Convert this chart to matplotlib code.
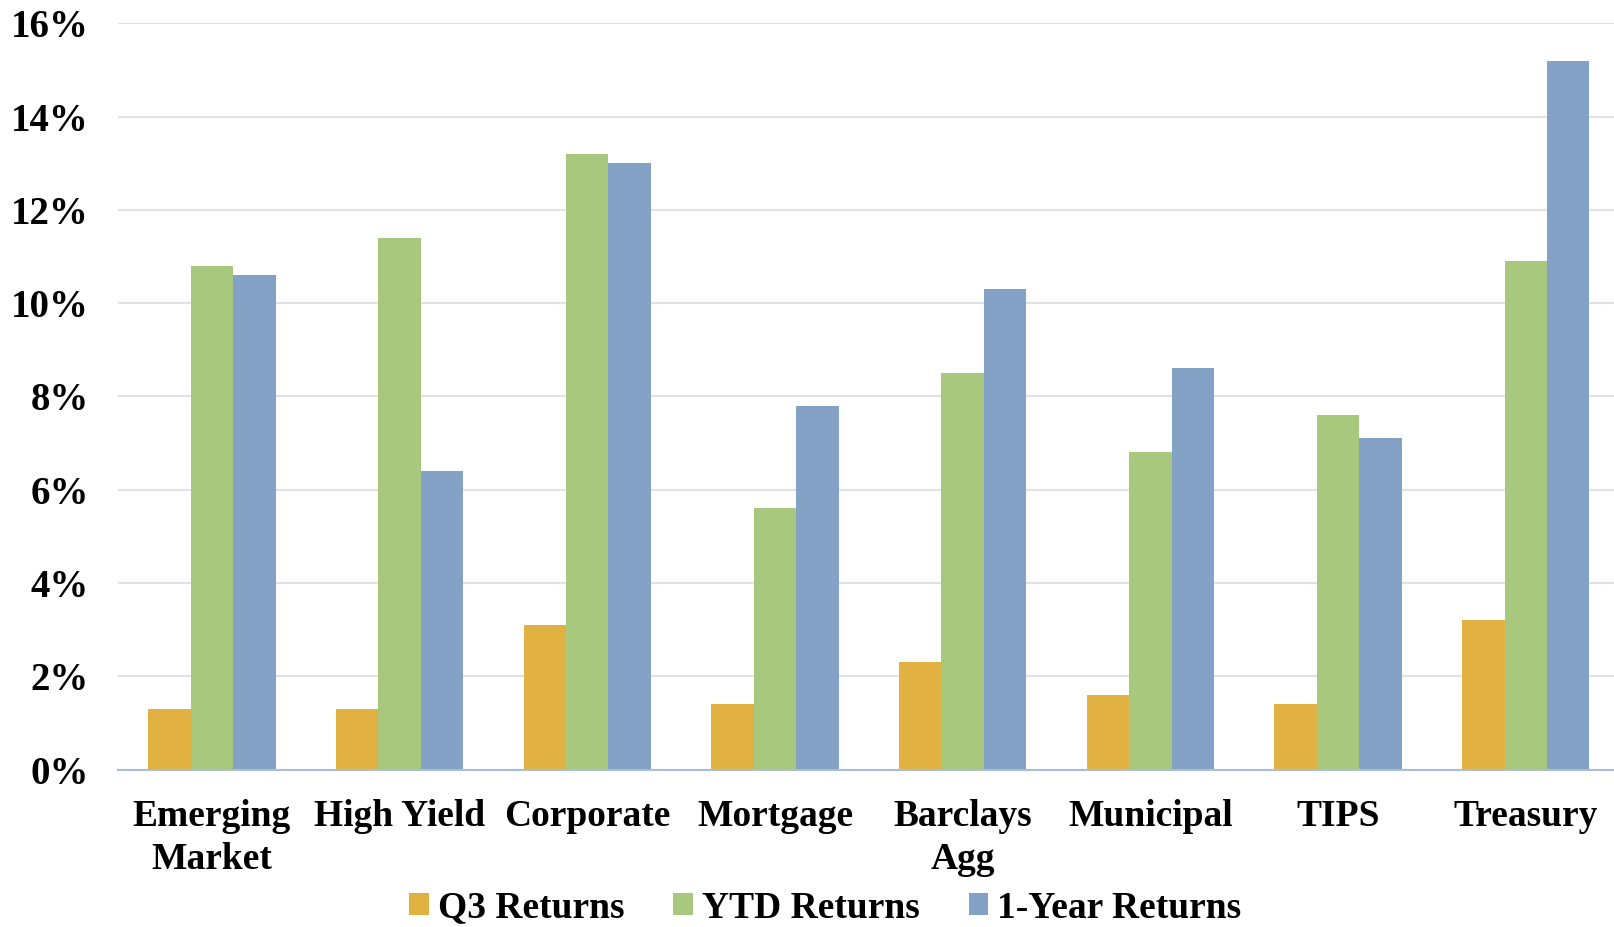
import numpy as np
import matplotlib
matplotlib.use("Agg")
import matplotlib.pyplot as plt
from matplotlib.ticker import FuncFormatter

plt.rcParams['font.family'] = ['Liberation Serif', 'DejaVu Serif']
plt.rcParams['font.weight'] = 'bold'

categories = ["Emerging\nMarket", "High Yield", "Corporate", "Mortgage",
              "Barclays\nAgg", "Municipal", "TIPS", "Treasury"]
q3_returns = [1.3, 1.3, 3.1, 1.4, 2.3, 1.6, 1.4, 3.2]
ytd_returns = [10.8, 11.4, 13.2, 5.6, 8.5, 6.8, 7.6, 10.9]
one_year_returns = [10.6, 6.4, 13.0, 7.8, 10.3, 8.6, 7.1, 15.2]

series = [("Q3 Returns", q3_returns, "#E1B241"),
          ("YTD Returns", ytd_returns, "#A8C87E"),
          ("1-Year Returns", one_year_returns, "#84A2C5")]

fig = plt.figure(figsize=(16.15, 9.27), dpi=100)
ax = fig.add_axes([118 / 1615, 157.5 / 927, 1501.6 / 1615, 746.2 / 927])

x = np.arange(len(categories))
w = 0.2264
for i, (name, vals, col) in enumerate(series):
    ax.bar(x + (i - 1) * w, vals, width=w, color=col, label=name, zorder=2)

ax.set_xlim(-0.5, len(categories) - 0.5)
ax.set_ylim(0, 16)
ax.set_yticks(range(0, 17, 2))
ax.yaxis.set_major_formatter(FuncFormatter(lambda v, p: f"{int(v)}%"))
ax.set_xticks(x)
ax.set_xticklabels(categories, linespacing=1.3)

ax.grid(axis='y', color='#DFE2E6', linewidth=1.5, zorder=0)
for s in ['top', 'right', 'left']:
    ax.spines[s].set_visible(False)
ax.spines['bottom'].set_color('#A9BDD8')
ax.spines['bottom'].set_linewidth(1.5)
ax.spines['bottom'].set_zorder(3)

ax.tick_params(axis='y', length=0, pad=21, labelsize=28)
ax.tick_params(axis='x', length=0, pad=21, labelsize=27)

# legend row along the bottom edge
fig.legend(loc='center', bbox_to_anchor=(0.511, 19 / 927), ncol=3,
           frameon=False, fontsize=27, handlelength=0.52, handleheight=0.52,
           handletextpad=0.25, columnspacing=1.3)

fig.savefig("out.png", dpi=100)
